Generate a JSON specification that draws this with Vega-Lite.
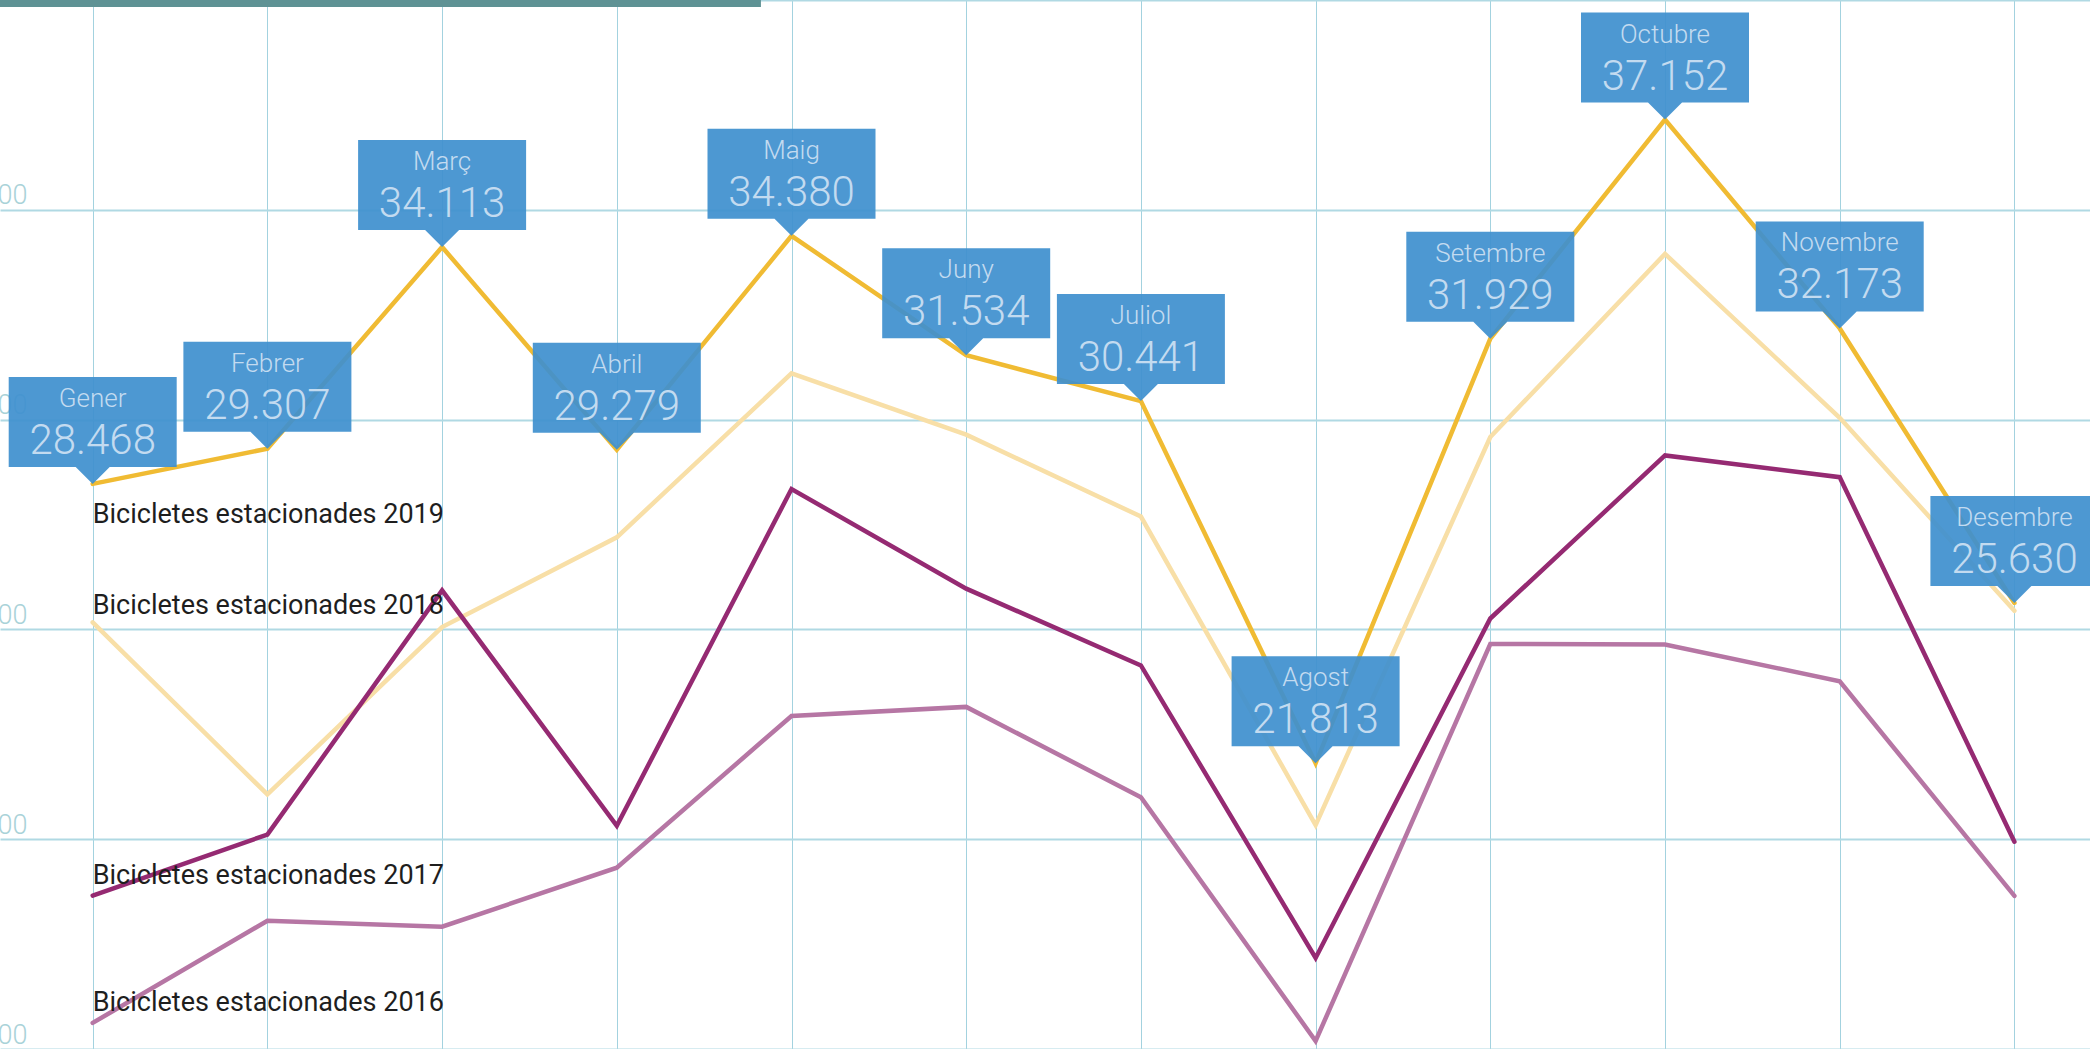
{
  "$schema": "https://vega.github.io/schema/vega-lite/v6.json",
  "width": 2090,
  "height": 1049,
  "autosize": {"type": "none"},
  "padding": 0,
  "background": "white",
  "config": {
    "view": {"stroke": null},
    "locale": {"number": {"decimal": ",", "thousands": ".", "grouping": [3], "currency": ["", " €"]}}
  },
  "data": {"values": [
    {"serie": "2016", "m": 1, "month": "Gener", "v": 15622},
    {"serie": "2016", "m": 2, "month": "Febrer", "v": 18058},
    {"serie": "2016", "m": 3, "month": "Març", "v": 17915},
    {"serie": "2016", "m": 4, "month": "Abril", "v": 19321},
    {"serie": "2016", "m": 5, "month": "Maig", "v": 22937},
    {"serie": "2016", "m": 6, "month": "Juny", "v": 23153},
    {"serie": "2016", "m": 7, "month": "Juliol", "v": 21000},
    {"serie": "2016", "m": 8, "month": "Agost", "v": 15192},
    {"serie": "2016", "m": 9, "month": "Setembre", "v": 24652},
    {"serie": "2016", "m": 10, "month": "Octubre", "v": 24639},
    {"serie": "2016", "m": 11, "month": "Novembre", "v": 23763},
    {"serie": "2016", "m": 12, "month": "Desembre", "v": 18649},
    {"serie": "2018", "m": 1, "month": "Gener", "v": 25166},
    {"serie": "2018", "m": 2, "month": "Febrer", "v": 21066},
    {"serie": "2018", "m": 3, "month": "Març", "v": 25057},
    {"serie": "2018", "m": 4, "month": "Abril", "v": 27194},
    {"serie": "2018", "m": 5, "month": "Maig", "v": 31100},
    {"serie": "2018", "m": 6, "month": "Juny", "v": 29641},
    {"serie": "2018", "m": 7, "month": "Juliol", "v": 27690},
    {"serie": "2018", "m": 8, "month": "Agost", "v": 20335},
    {"serie": "2018", "m": 9, "month": "Setembre", "v": 29585},
    {"serie": "2018", "m": 10, "month": "Octubre", "v": 33949},
    {"serie": "2018", "m": 11, "month": "Novembre", "v": 30043},
    {"serie": "2018", "m": 12, "month": "Desembre", "v": 25444},
    {"serie": "2017", "m": 1, "month": "Gener", "v": 18656},
    {"serie": "2017", "m": 2, "month": "Febrer", "v": 20111},
    {"serie": "2017", "m": 3, "month": "Març", "v": 25931},
    {"serie": "2017", "m": 4, "month": "Abril", "v": 20318},
    {"serie": "2017", "m": 5, "month": "Maig", "v": 28345},
    {"serie": "2017", "m": 6, "month": "Juny", "v": 25971},
    {"serie": "2017", "m": 7, "month": "Juliol", "v": 24141},
    {"serie": "2017", "m": 8, "month": "Agost", "v": 17170},
    {"serie": "2017", "m": 9, "month": "Setembre", "v": 25260},
    {"serie": "2017", "m": 10, "month": "Octubre", "v": 29145},
    {"serie": "2017", "m": 11, "month": "Novembre", "v": 28628},
    {"serie": "2017", "m": 12, "month": "Desembre", "v": 19940},
    {"serie": "2019", "m": 1, "month": "Gener", "v": 28468},
    {"serie": "2019", "m": 2, "month": "Febrer", "v": 29307},
    {"serie": "2019", "m": 3, "month": "Març", "v": 34113},
    {"serie": "2019", "m": 4, "month": "Abril", "v": 29279},
    {"serie": "2019", "m": 5, "month": "Maig", "v": 34380},
    {"serie": "2019", "m": 6, "month": "Juny", "v": 31534},
    {"serie": "2019", "m": 7, "month": "Juliol", "v": 30441},
    {"serie": "2019", "m": 8, "month": "Agost", "v": 21813},
    {"serie": "2019", "m": 9, "month": "Setembre", "v": 31929},
    {"serie": "2019", "m": 10, "month": "Octubre", "v": 37152},
    {"serie": "2019", "m": 11, "month": "Novembre", "v": 32173},
    {"serie": "2019", "m": 12, "month": "Desembre", "v": 25630}
  ]},
  "encoding": {
    "x": {
      "field": "m", "type": "quantitative",
      "scale": {"domain": [0.4694, 12.4327], "nice": false, "zero": false},
      "axis": {"values": [1, 2, 3, 4, 5, 6, 7, 8, 9, 10, 11, 12], "grid": true, "gridColor": "#A3D2DF", "gridWidth": 1, "labels": false, "ticks": false, "domain": false, "title": null}
    },
    "y": {
      "field": "v", "type": "quantitative",
      "scale": {"domain": [15000, 40000], "nice": false, "zero": false},
      "axis": {
        "values": [15000, 20000, 25000, 30000, 35000, 40000],
        "grid": true, "gridColor": "#B0D9E3", "gridWidth": 2,
        "ticks": false, "tickSize": 0, "domain": false, "title": null,
        "format": ",d", "labelAlign": "right", "labelBaseline": "alphabetic",
        "labelPadding": -27, "labelOffset": -6,
        "labelFont": "Roboto", "labelFontWeight": 300, "labelFontSize": 27, "labelColor": "#A9D2D8",
        "labelFlush": false, "labelOverlap": false, "labelBound": false
      }
    }
  },
  "layer": [
    {
      "transform": [{"filter": "datum.serie === '2019' && datum.m === 1"}],
      "mark": {"type": "rule", "strokeWidth": 7, "color": "#5E9294", "strokeCap": "butt"},
      "encoding": {
        "x": {"datum": 0.4694, "type": "quantitative"},
        "x2": {"datum": 4.825},
        "y": {"datum": 39917, "type": "quantitative"}
      }
    },
    {
      "mark": {"type": "line", "strokeWidth": 4.5, "strokeCap": "round", "strokeJoin": "miter"},
      "encoding": {
        "color": {"field": "serie", "type": "nominal", "scale": {"domain": ["2016", "2018", "2017", "2019"], "range": ["#B676A4", "#F8DFA7", "#952A72", "#F0BB33"]}, "legend": null}
      }
    },
    {
      "transform": [{"filter": "datum.month === 'Gener' && datum.serie === '2019'"}, {"calculate": "'Bicicletes estacionades ' + datum.serie", "as": "nom"}],
      "mark": {"type": "text", "align": "left", "baseline": "alphabetic", "dy": 39, "font": "Roboto", "fontSize": 27, "color": "#1E1E1E"},
      "encoding": {"text": {"field": "nom"}}
    },
    {
      "transform": [{"filter": "datum.month === 'Gener' && datum.serie === '2018'"}, {"calculate": "'Bicicletes estacionades ' + datum.serie", "as": "nom"}],
      "mark": {"type": "text", "align": "left", "baseline": "alphabetic", "dy": -8, "font": "Roboto", "fontSize": 27, "color": "#1E1E1E"},
      "encoding": {"text": {"field": "nom"}}
    },
    {
      "transform": [{"filter": "datum.month === 'Gener' && (datum.serie === '2017' || datum.serie === '2016')"}, {"calculate": "'Bicicletes estacionades ' + datum.serie", "as": "nom"}],
      "mark": {"type": "text", "align": "left", "baseline": "alphabetic", "dy": -12, "font": "Roboto", "fontSize": 27, "color": "#1E1E1E"},
      "encoding": {"text": {"field": "nom"}}
    },
    {
      "transform": [{"filter": "datum.serie === '2019'"}],
      "mark": {"type": "point", "shape": "M-0.84,-1.07H0.84V-0.17H0.17L0,0L-0.17,-0.17H-0.84Z", "size": 40000, "filled": true, "color": "#3F90CF", "opacity": 0.93, "strokeWidth": 0}
    },
    {
      "transform": [{"filter": "datum.serie === '2019'"}],
      "mark": {"type": "text", "align": "center", "baseline": "alphabetic", "dy": -77, "font": "Roboto", "fontWeight": 300, "fontSize": 26, "color": "#C3DBF0"},
      "encoding": {"text": {"field": "month"}}
    },
    {
      "transform": [{"filter": "datum.serie === '2019'"}],
      "mark": {"type": "text", "align": "center", "baseline": "alphabetic", "dy": -30, "font": "Roboto", "fontWeight": 300, "fontSize": 42, "color": "#C3DBF0"},
      "encoding": {"text": {"field": "v", "type": "quantitative", "format": ",d"}}
    }
  ]
}
